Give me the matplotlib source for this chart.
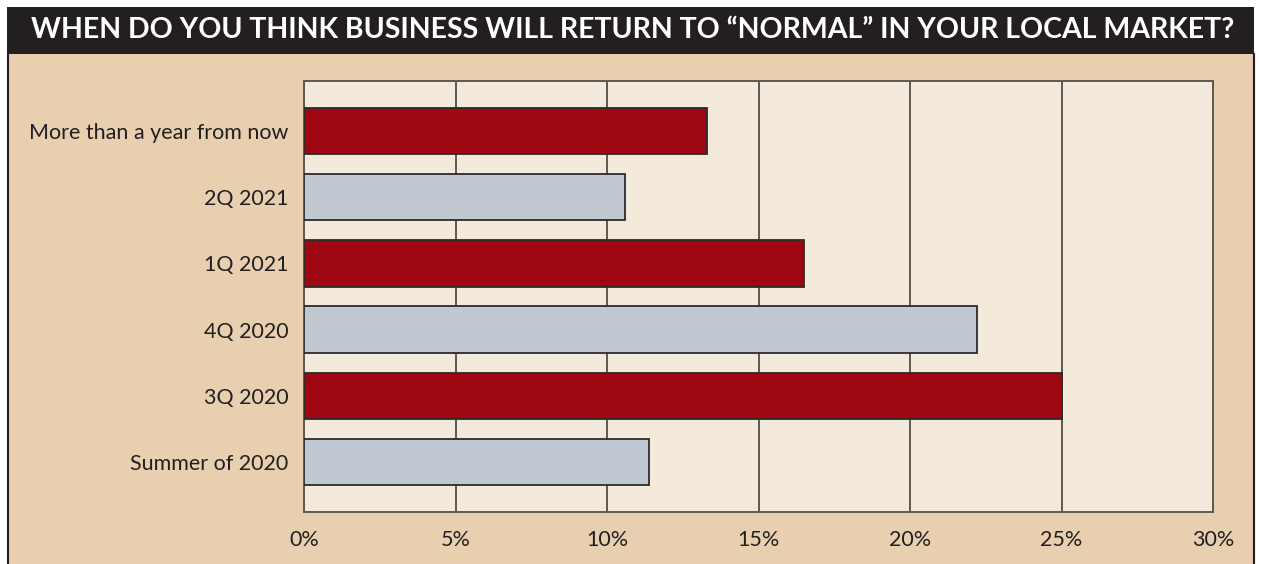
import matplotlib
matplotlib.use('Agg')
import matplotlib.pyplot as plt
from matplotlib.patches import Rectangle
import numpy as np

# survey answers, bottom to top
categories = ['Summer of 2020', '3Q 2020', '4Q 2020', '1Q 2021', '2Q 2021', 'More than a year from now']
values = [11.4, 25.0, 22.2, 16.5, 10.6, 13.3]
ticks = [0, 5, 10, 15, 20, 25, 30]
tick_labels = ['0%', '5%', '10%', '15%', '20%', '25%', '30%']
title = 'WHEN DO YOU THINK BUSINESS WILL RETURN TO \u201cNORMAL\u201d IN YOUR LOCAL MARKET?'

red = '#9e0610'
grey = '#c0c7d1'
W, H = 1261, 564

fig = plt.figure(figsize=(W / 100, H / 100), dpi=100)
fig.patch.set_facecolor('white')

def fx(px):
    return px / W

def fy(py):
    return 1 - py / H

L, R = 7, 1254
# tan background with dark side borders
fig.patches.append(Rectangle((fx(L), 0), fx(R) - fx(L), fy(54), transform=fig.transFigure,
                             facecolor='#e7cfb0', edgecolor='none', zorder=-2))
fig.add_artist(plt.Line2D([fx(L + 0.5), fx(L + 0.5)], [0, fy(54)], color='#231f20', lw=1.5, transform=fig.transFigure))
fig.add_artist(plt.Line2D([fx(R - 0.5), fx(R - 0.5)], [0, fy(54)], color='#231f20', lw=1.5, transform=fig.transFigure))
# title bar
fig.patches.append(Rectangle((fx(L), fy(54)), fx(R) - fx(L), fy(7) - fy(54), transform=fig.transFigure,
                             facecolor='#231f20', edgecolor='none', zorder=-1))
fig.text(fx(633), fy(30.5), title, color='white', fontsize=20.5, fontweight='bold',
         family=['Lato', 'DejaVu Sans'], ha='center', va='center')

ax = fig.add_axes([fx(304), fy(512), fx(1213) - fx(304), fy(81) - fy(512)])
ax.set_zorder(2)
ax.set_facecolor('#f4eadb')
y = np.arange(len(categories))
colors = [grey if i % 2 == 0 else red for i in range(len(categories))]
ax.barh(y, values, height=0.7, color=colors, edgecolor='#2b2b2b', linewidth=1.3, zorder=3)
ax.set_xlim(0, 30)
ax.set_ylim(-0.75, len(categories) - 0.25)
ax.set_xticks(ticks, tick_labels)
ax.set_yticks(y, categories)
ax.grid(axis='x', color='#5e5853', lw=1.4, zorder=1)
ax.tick_params(length=0, labelsize=15.5, colors='#231f20')
ax.tick_params(axis='y', pad=11)
ax.tick_params(axis='x', pad=13)
for lab in ax.get_xticklabels() + ax.get_yticklabels():
    lab.set_family(['Lato', 'DejaVu Sans'])
for s in ax.spines.values():
    s.set_color('#5e5853')
    s.set_linewidth(1.4)

fig.savefig('out.png', dpi=100)
